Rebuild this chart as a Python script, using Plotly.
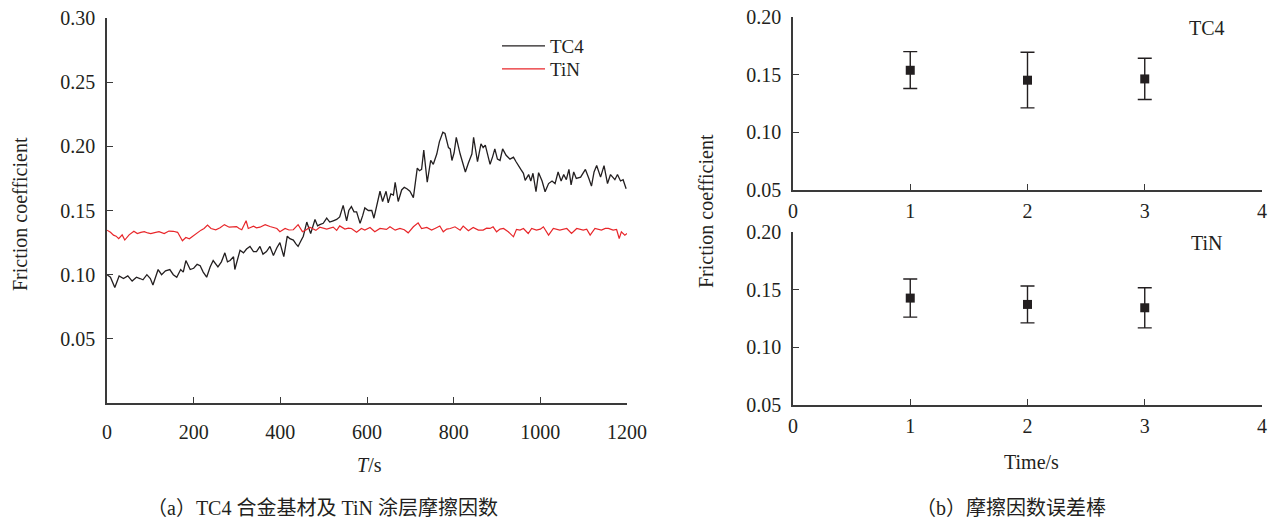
import plotly.graph_objects as go

# ---------------- data: friction coefficient vs time ----------------
tc4_t = [0, 8, 18, 28, 38, 48, 58, 68, 76, 83, 92, 100, 106, 112, 118, 126, 135, 145, 153, 161,
         170, 176, 182, 192, 200, 208, 215, 222, 230, 238, 245, 256, 264, 272, 278, 284, 292, 295,
         300, 307, 315, 322, 330, 338, 345, 353, 360, 368, 376, 384, 392, 399, 408, 416, 422, 430,
         436, 441, 447, 453, 461, 470, 480, 486, 491, 499, 507, 514, 522, 530, 537, 545, 553, 558,
         564, 570, 576, 584, 590, 595, 603, 611, 616, 622, 630, 636, 644, 649, 655, 661, 665, 672,
         680, 686, 692, 699, 707, 716, 721, 726, 731, 739, 747, 753, 761, 767, 775, 780, 788, 792,
         796, 801, 806, 815, 821, 827, 834, 842, 846, 855, 863, 868, 873, 878, 884, 890, 895, 901,
         907, 913, 921, 930, 938, 944, 949, 955, 961, 965, 973, 978, 983, 990, 996, 1004, 1011,
         1019, 1027, 1034, 1041, 1048, 1054, 1060, 1066, 1071, 1077, 1083, 1093, 1098, 1104, 1112,
         1118, 1124, 1130, 1139, 1147, 1155, 1162, 1172, 1178, 1185, 1191, 1198]
tc4_mu = [0.100, 0.098, 0.090, 0.099, 0.097, 0.099, 0.095, 0.098, 0.097, 0.096, 0.100, 0.097,
          0.092, 0.099, 0.104, 0.100, 0.103, 0.104, 0.100, 0.098, 0.104, 0.102, 0.111, 0.104,
          0.105, 0.108, 0.107, 0.102, 0.098, 0.106, 0.111, 0.106, 0.110, 0.117, 0.110, 0.111,
          0.114, 0.104, 0.110, 0.119, 0.117, 0.120, 0.122, 0.118, 0.118, 0.122, 0.116, 0.118,
          0.122, 0.115, 0.121, 0.125, 0.114, 0.130, 0.128, 0.127, 0.124, 0.122, 0.126, 0.130,
          0.141, 0.132, 0.143, 0.138, 0.139, 0.140, 0.144, 0.141, 0.142, 0.143, 0.145, 0.154,
          0.142, 0.150, 0.153, 0.149, 0.149, 0.140, 0.146, 0.152, 0.150, 0.150, 0.144, 0.154,
          0.165, 0.157, 0.165, 0.156, 0.163, 0.162, 0.172, 0.157, 0.166, 0.168, 0.167, 0.165,
          0.160, 0.183, 0.181, 0.182, 0.197, 0.172, 0.189, 0.186, 0.194, 0.2035, 0.211, 0.210,
          0.199, 0.198, 0.189, 0.195, 0.207, 0.194, 0.187, 0.180, 0.187, 0.194, 0.207, 0.188,
          0.202, 0.199, 0.201, 0.193, 0.186, 0.192, 0.198, 0.190, 0.189, 0.198, 0.193, 0.190,
          0.1915, 0.188, 0.185, 0.182, 0.179, 0.1735, 0.178, 0.173, 0.179, 0.1646, 0.1795, 0.173,
          0.1646, 0.171, 0.173, 0.171, 0.180, 0.173, 0.178, 0.174, 0.182, 0.170, 0.180, 0.175,
          0.176, 0.179, 0.182, 0.175, 0.169, 0.180, 0.185, 0.176, 0.185, 0.171, 0.178, 0.174,
          0.178, 0.173, 0.174, 0.167]

tin_t = [0, 8, 15, 21, 27, 35, 41, 51, 62, 70, 78, 86, 94, 101, 110, 120, 132, 143, 153, 163,
         174, 182, 190, 201, 209, 217, 224, 232, 240, 251, 261, 271, 282, 294, 299, 305, 311, 321,
         326, 338, 345, 353, 365, 376, 384, 392, 399, 411, 420, 430, 441, 451, 460, 468, 482, 491,
         507, 515, 522, 530, 537, 549, 557, 564, 576, 587, 595, 607, 618, 630, 645, 653, 665, 676,
         686, 695, 707, 718, 726, 738, 749, 758, 768, 776, 784, 792, 803, 815, 822, 834, 845, 857,
         868, 876, 884, 891, 899, 907, 915, 926, 938, 945, 953, 961, 972, 980, 991, 1000, 1007,
         1019, 1030, 1045, 1053, 1061, 1072, 1084, 1099, 1107, 1115, 1126, 1141, 1150, 1157, 1168,
         1176, 1182, 1187, 1195, 1200]
tin_mu = [0.1347, 0.1330, 0.1308, 0.1300, 0.1280, 0.1310, 0.1270, 0.1310, 0.1339, 0.1320,
          0.1330, 0.1335, 0.1325, 0.1320, 0.1328, 0.1335, 0.1320, 0.1340, 0.1338, 0.1330,
          0.1264, 0.1290, 0.1280, 0.1310, 0.1325, 0.1347, 0.1360, 0.1386, 0.1360, 0.1350,
          0.1365, 0.1390, 0.1370, 0.1370, 0.1375, 0.1360, 0.1350, 0.1420, 0.1360, 0.1378,
          0.1365, 0.1370, 0.1390, 0.1375, 0.1368, 0.1360, 0.1335, 0.1360, 0.1348, 0.1350,
          0.1390, 0.1335, 0.1350, 0.1370, 0.1345, 0.1370, 0.1355, 0.1362, 0.1370, 0.1345,
          0.1380, 0.1355, 0.1362, 0.1360, 0.1330, 0.1360, 0.1347, 0.1368, 0.1334, 0.1360,
          0.1353, 0.1373, 0.1347, 0.1360, 0.1350, 0.1326, 0.1373, 0.1404, 0.1360, 0.1368,
          0.1347, 0.1362, 0.1379, 0.1334, 0.1355, 0.1360, 0.1373, 0.1347, 0.1379, 0.1342,
          0.1368, 0.1347, 0.1347, 0.1362, 0.1360, 0.1373, 0.1334, 0.1355, 0.1360, 0.1334,
          0.1295, 0.1353, 0.1348, 0.1360, 0.1321, 0.1360, 0.1347, 0.1355, 0.1373, 0.1308,
          0.1360, 0.1347, 0.1355, 0.1360, 0.1321, 0.1360, 0.1347, 0.1355, 0.1308, 0.1360,
          0.1347, 0.1360, 0.1360, 0.1347, 0.1352, 0.1282, 0.1334, 0.1308, 0.1320]

# ---------------- data: error bars ----------------
eb_x = [1, 2, 3]
tc4_mean = [0.1538, 0.1452, 0.1463]
tc4_upper = [0.1700, 0.1694, 0.1642]
tc4_lower = [0.1380, 0.1212, 0.1285]
tin_mean = [0.1427, 0.1372, 0.1343]
tin_upper = [0.1593, 0.1532, 0.1517]
tin_lower = [0.1262, 0.1212, 0.1169]

left_xticks = [0, 200, 400, 600, 800, 1000, 1200]
left_yticks = [0.05, 0.10, 0.15, 0.20, 0.25, 0.30]
right_xticks = [0, 1, 2, 3, 4]
right_yticks = [0.05, 0.10, 0.15, 0.20]

FONT = "Liberation Serif"
CJK = "Liberation Serif, Noto Sans CJK SC"
INK = "#231f20"
AX = "#3a3a3a"
W, H = 1271, 521

fig = go.Figure()

fig.add_trace(go.Scatter(x=tc4_t, y=tc4_mu, mode="lines", name="TC4", legend="legend",
                         line=dict(color=INK, width=1.3), xaxis="x", yaxis="y"))
fig.add_trace(go.Scatter(x=tin_t, y=tin_mu, mode="lines", name="TiN", legend="legend2",
                         line=dict(color="#e8262a", width=1.2), xaxis="x", yaxis="y"))

def eb(mean, up, lo, xa, ya):
    return go.Scatter(
        x=eb_x, y=mean, mode="markers", showlegend=False, xaxis=xa, yaxis=ya,
        marker=dict(symbol="square", size=9, color=INK),
        error_y=dict(type="data", symmetric=False,
                     array=[u - m for u, m in zip(up, mean)],
                     arrayminus=[m - l for m, l in zip(mean, lo)],
                     color=INK, thickness=1.4, width=7))

fig.add_trace(eb(tc4_mean, tc4_upper, tc4_lower, "x2", "y2"))
fig.add_trace(eb(tin_mean, tin_upper, tin_lower, "x3", "y3"))

def px_x(p):
    return p / W

def px_y(p):
    return 1 - p / H

common = dict(showline=True, linecolor=AX, linewidth=1.5, ticks="inside", ticklen=6,
              tickwidth=1.3, tickcolor=AX, showgrid=False, zeroline=False, automargin=False,
              tickfont=dict(family=FONT, size=20, color=INK))

leg = dict(xanchor="left", yanchor="middle", bgcolor="rgba(0,0,0,0)",
           font=dict(family=FONT, size=19, color=INK), itemwidth=43)

fig.update_layout(
    width=W, height=H, margin=dict(l=0, r=0, t=0, b=0, autoexpand=False),
    paper_bgcolor="white", plot_bgcolor="white",
    font=dict(family=FONT, size=20, color=INK),
    xaxis=dict(domain=[px_x(107), px_x(627)], range=[0, 1200], tickvals=left_xticks,
               anchor="y", ticklabelstandoff=10, **common),
    yaxis=dict(domain=[px_y(403), px_y(18)], range=[0, 0.30], tickvals=left_yticks,
               tickformat=".2f", anchor="x", ticklabelstandoff=6, **common),
    xaxis2=dict(domain=[px_x(793), px_x(1262)], range=[0, 4], tickvals=right_xticks,
                anchor="y2", ticklabelstandoff=2, **common),
    yaxis2=dict(domain=[px_y(190), px_y(17)], range=[0.05, 0.20], tickvals=right_yticks,
                tickformat=".2f", anchor="x2", ticklabelstandoff=6, **common),
    xaxis3=dict(domain=[px_x(793), px_x(1262)], range=[0, 4], tickvals=right_xticks,
                anchor="y3", ticklabelstandoff=2, **common),
    yaxis3=dict(domain=[px_y(405), px_y(232)], range=[0.05, 0.20], tickvals=right_yticks,
                tickformat=".2f", anchor="x3", ticklabelstandoff=6, **common),
    legend=dict(x=px_x(497), y=px_y(46), **leg),
    legend2=dict(x=px_x(497), y=px_y(69), **leg),
    showlegend=True,
)

ann = [
    dict(text="Friction coefficient", x=px_x(20), y=px_y(214), textangle=-90, size=20),
    dict(text="<i>T</i>/s", x=px_x(369), y=px_y(465), size=20),
    dict(text="Friction coefficient", x=px_x(706), y=px_y(211), textangle=-90, size=20),
    dict(text="Time/s", x=px_x(1031), y=px_y(462), size=20),
    dict(text="TC4", x=px_x(1207), y=px_y(28), size=20),
    dict(text="TiN", x=px_x(1207), y=px_y(243), size=20),
    dict(text="（a）TC4 合金基材及 TiN 涂层摩擦因数", x=px_x(322), y=px_y(508), size=20, fam=CJK),
    dict(text="（b）摩擦因数误差棒", x=px_x(1011), y=px_y(508), size=20, fam=CJK),
]
for a in ann:
    fig.add_annotation(text=a["text"], x=a["x"], y=a["y"], xref="paper", yref="paper",
                       showarrow=False, xanchor="center", yanchor="middle",
                       textangle=a.get("textangle", 0),
                       font=dict(family=a.get("fam", FONT), size=a["size"], color=INK))

fig.write_html("out.html")
